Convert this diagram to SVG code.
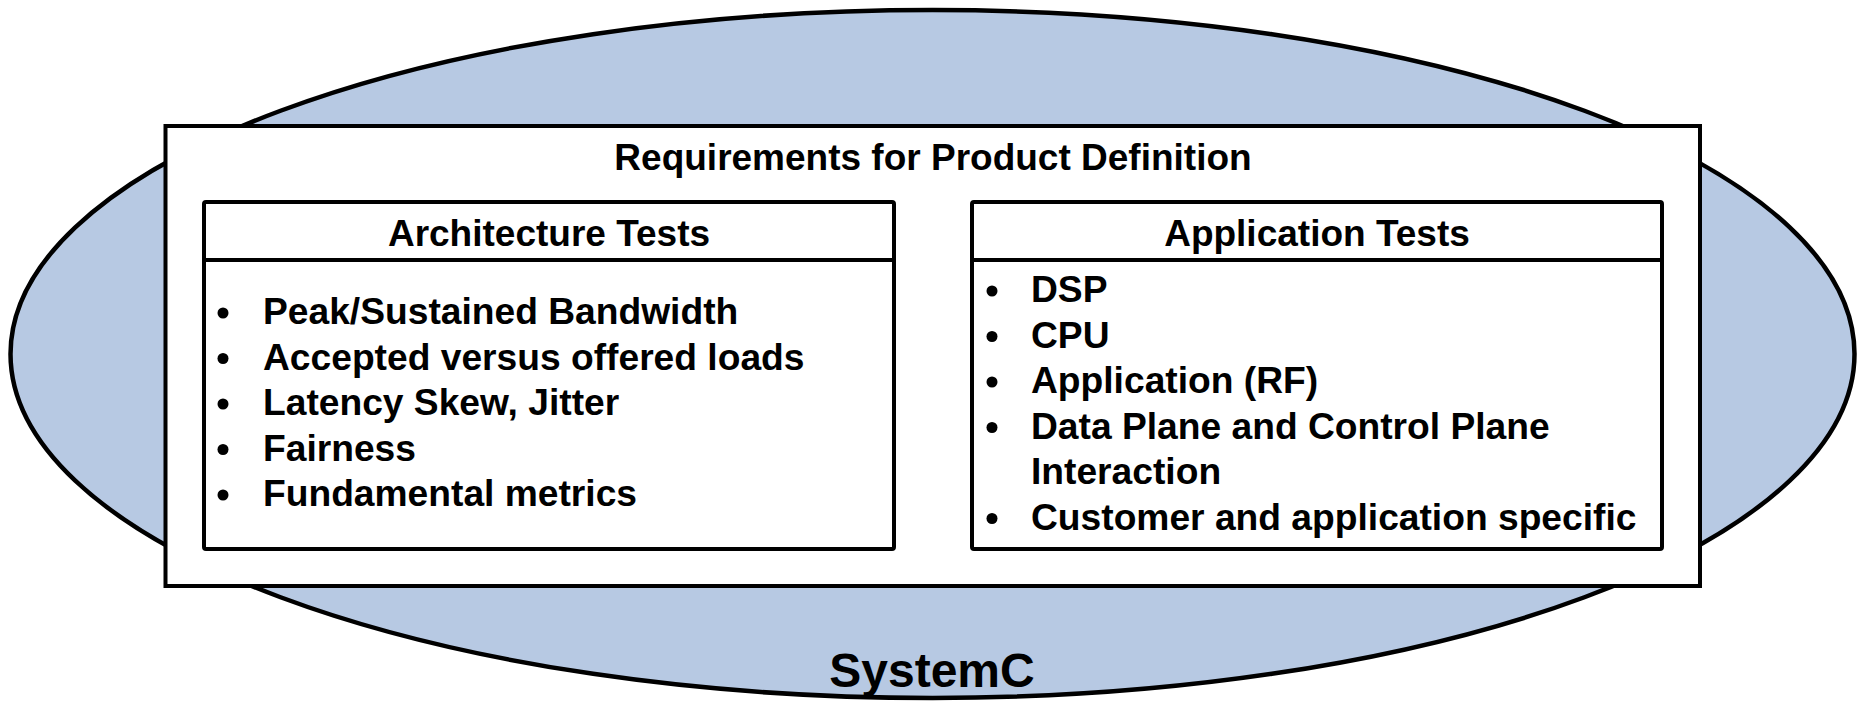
<svg xmlns="http://www.w3.org/2000/svg" width="1860" height="701" viewBox="0 0 1860 701">
<style>
.t{font-family:"Liberation Sans",Arial,sans-serif;font-weight:bold;fill:#000}
.box{fill:#fff;stroke:#000;stroke-width:4}
.ln{stroke:#000;stroke-width:4}
</style>
<rect width="1860" height="701" fill="#fff"/>
<g id="systemc">
<ellipse cx="932.5" cy="354" rx="922" ry="344" fill="#b7c9e3" stroke="#000" stroke-width="4.5"/>
<text class="t" x="932" y="687" font-size="48" text-anchor="middle">SystemC</text>
</g>
<g id="requirements">
<rect class="box" x="165.5" y="126" width="1534.5" height="460" stroke-width="5"/>
<text class="t" x="933" y="170" font-size="37" text-anchor="middle">Requirements for Product Definition</text>
</g>
<g id="architecture">
<rect class="box" x="204" y="202" width="690" height="347" rx="2"/>
<line class="ln" x1="204" y1="260" x2="894" y2="260"/>
<text class="t" x="549" y="246" font-size="37" text-anchor="middle">Architecture Tests</text>
<g fill="#000">
<circle cx="223" cy="313" r="5.5"/>
<circle cx="223" cy="358.5" r="5.5"/>
<circle cx="223" cy="404" r="5.5"/>
<circle cx="223" cy="449.5" r="5.5"/>
<circle cx="223" cy="495" r="5.5"/>
</g>
<g class="t" font-size="37.2">
<text x="263" y="324">Peak/Sustained Bandwidth</text>
<text x="263" y="369.5">Accepted versus offered loads</text>
<text x="263" y="415">Latency Skew, Jitter</text>
<text x="263" y="460.5">Fairness</text>
<text x="263" y="506">Fundamental metrics</text>
</g>
</g>
<g id="application">
<rect class="box" x="972" y="202" width="690" height="347" rx="2"/>
<line class="ln" x1="972" y1="260" x2="1662" y2="260"/>
<text class="t" x="1317" y="246" font-size="37" text-anchor="middle">Application Tests</text>
<g fill="#000">
<circle cx="992" cy="291" r="5.5"/>
<circle cx="992" cy="336.5" r="5.5"/>
<circle cx="992" cy="382" r="5.5"/>
<circle cx="992" cy="427.5" r="5.5"/>
<circle cx="992" cy="518.5" r="5.5"/>
</g>
<g class="t" font-size="37.2">
<text x="1031" y="302">DSP</text>
<text x="1031" y="347.5">CPU</text>
<text x="1031" y="393">Application (RF)</text>
<text x="1031" y="438.5">Data Plane and Control Plane</text>
<text x="1031" y="484">Interaction</text>
<text x="1031" y="529.5">Customer and application specific</text>
</g>
</g>
<g id="connectors"></g>
</svg>
